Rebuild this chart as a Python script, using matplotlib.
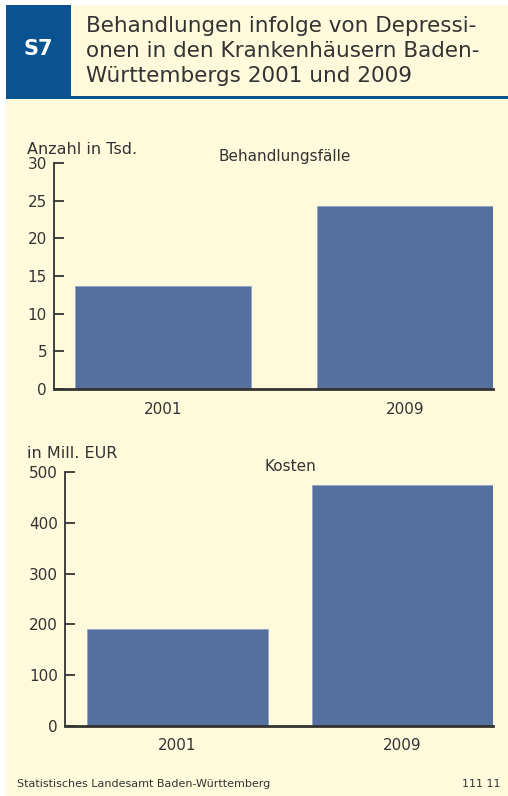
import matplotlib.pyplot as plt
from matplotlib.patches import Rectangle

# data
years = ["2001", "2009"]
faelle = [13.7, 24.3]      # Anzahl in Tsd.
kosten = [190, 475]        # in Mill. EUR
faelle_ticks = [0, 5, 10, 15, 20, 25, 30]
kosten_ticks = [0, 100, 200, 300, 400, 500]

CREAM = "#FFFADC"
BLUE = "#0B5290"
BAR = "#55709E"
TXT = "#333333"

plt.rcParams['font.family'] = ['DejaVu Sans']

W, H = 508, 796
fig = plt.figure(figsize=(W / 100, H / 100), dpi=100)
fig.patch.set_facecolor("white")

def fx(px):
    return px / W

def fy(py):
    return 1 - py / H

# cream page, header box and rule
fig.patches.append(Rectangle((fx(6), 0), 1 - fx(6), fy(5), transform=fig.transFigure,
                             facecolor=CREAM, edgecolor="none", zorder=-10))
fig.patches.append(Rectangle((fx(6), fy(96)), fx(65), fy(5) - fy(96), transform=fig.transFigure,
                             facecolor=BLUE, edgecolor="none", zorder=-5))
fig.patches.append(Rectangle((fx(6), fy(99)), 1 - fx(6), fy(96) - fy(99), transform=fig.transFigure,
                             facecolor=BLUE, edgecolor="none", zorder=-5))

fig.text(fx(38), fy(49), "S7", color="white", fontsize=15, fontweight="bold",
         ha="center", va="center")
title_lines = ["Behandlungen infolge von Depressi-",
               "onen in den Krankenhäusern Baden-",
               "Württembergs 2001 und 2009"]
for i, line in enumerate(title_lines):
    fig.text(fx(86), fy(26 + 25 * i), line, color=TXT, fontsize=15.5,
             ha="left", va="center")


def bar_panel(rect, values, ticks, width, xlim, unit, unit_xy, title, title_xy):
    ax = fig.add_axes(rect)
    ax.set_facecolor("none")
    ax.bar(range(len(years)), values, width=width, color=BAR, edgecolor="#8FA3C4",
           linewidth=0.6, align="center")
    ax.set_xlim(*xlim)
    ax.set_ylim(ticks[0], ticks[-1])
    ax.set_yticks(ticks)
    ax.set_xticks(range(len(years)))
    ax.set_xticklabels(years)
    for s in ["top", "right"]:
        ax.spines[s].set_visible(False)
    ax.spines["left"].set_linewidth(1.3)
    ax.spines["bottom"].set_linewidth(2)
    ax.spines["left"].set_color(TXT)
    ax.spines["bottom"].set_color(TXT)
    ax.tick_params(axis="y", direction="in", length=7, width=1.3, color=TXT,
                   labelsize=11, labelcolor=TXT, pad=5)
    ax.tick_params(axis="x", length=0, labelsize=11, labelcolor=TXT, pad=9)
    fig.text(fx(unit_xy[0]), fy(unit_xy[1]), unit, color=TXT, fontsize=11.5,
             ha="left", va="center")
    fig.text(fx(title_xy[0]), fy(title_xy[1]), title, color=TXT, fontsize=11,
             ha="center", va="center")
    return ax


bar_panel([fx(54), fy(389), fx(439), fy(163) - fy(389)], faelle, faelle_ticks,
          0.726, (-0.449, 1.361), "Anzahl in Tsd.", (27, 149),
          "Behandlungsfälle", (285, 157))
bar_panel([fx(65), fy(725.7), fx(428), fy(472.3) - fy(725.7)], kosten, kosten_ticks,
          0.804, (-0.5, 1.402), "in Mill. EUR", (27, 453),
          "Kosten", (290, 466))

fig.text(fx(17), fy(784), "Statistisches Landesamt Baden-Württemberg", color=TXT,
         fontsize=8, ha="left", va="center")
fig.text(fx(501), fy(784), "111 11", color=TXT, fontsize=8, ha="right", va="center")

fig.savefig("out.png", dpi=100, facecolor=fig.get_facecolor())
